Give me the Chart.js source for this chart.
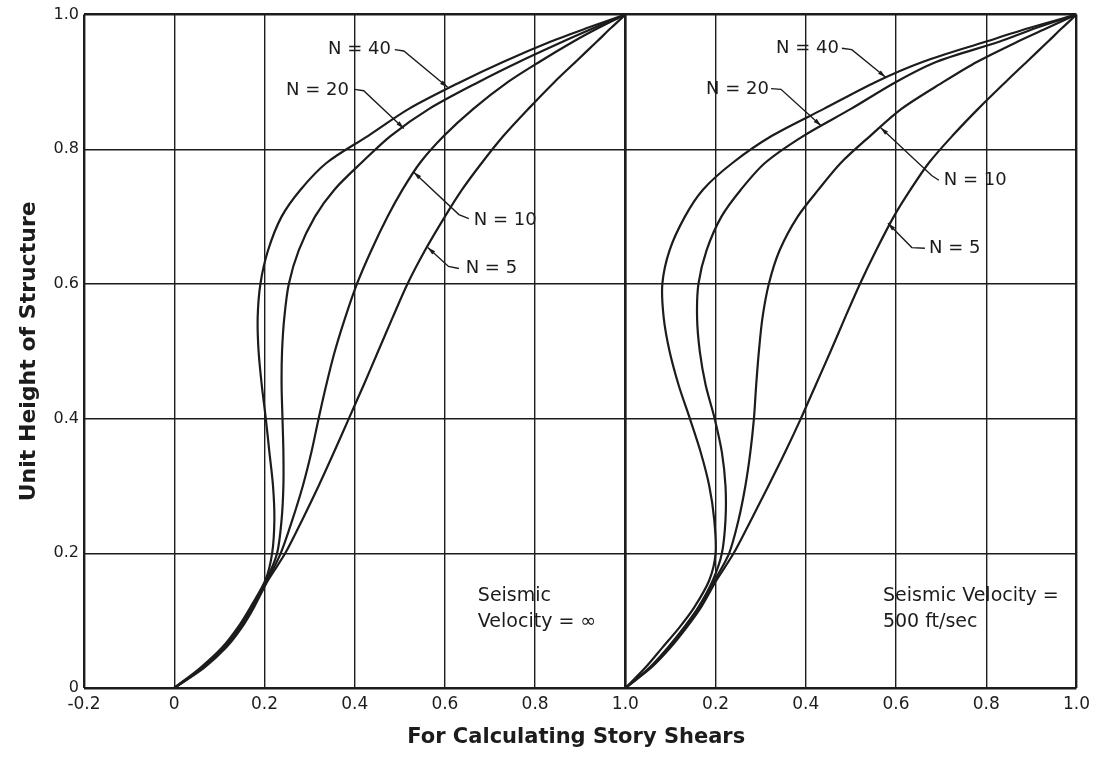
<!DOCTYPE html>
<html><head><meta charset="utf-8">
<script src="https://cdn.jsdelivr.net/npm/chart.js@4"></script>
<style>html,body{margin:0;padding:0;background:#fff}#wrap{width:1096px;height:761px}</style>
</head><body><div id="wrap"><canvas id="c" width="1096" height="761"></canvas></div>
<script>
// ---- data: unit height levels and shear ratio values of each curve ----
const heights = [0, 0.03, 0.06, 0.09, 0.12, 0.16, 0.2, 0.25, 0.3, 0.35, 0.4, 0.45, 0.5, 0.55, 0.6, 0.65, 0.7, 0.74, 0.78, 0.82, 0.86, 0.9, 0.93, 0.96, 0.98, 1.0];

// Seismic velocity = infinity (left panel)
const leftN40 = [0, 0.058, 0.106, 0.141, 0.169, 0.202, 0.217, 0.222, 0.219, 0.211, 0.203, 0.194, 0.187, 0.185, 0.191, 0.208, 0.238, 0.28, 0.338, 0.43, 0.52, 0.635, 0.73, 0.835, 0.915, 1.0];
const leftN20 = [0, 0.061, 0.109, 0.144, 0.171, 0.204, 0.228, 0.238, 0.242, 0.242, 0.24, 0.238, 0.239, 0.244, 0.254, 0.276, 0.312, 0.355, 0.415, 0.48, 0.565, 0.675, 0.765, 0.862, 0.93, 1.0];
const leftN10 = [0, 0.063, 0.112, 0.147, 0.174, 0.206, 0.236, 0.262, 0.285, 0.304, 0.32, 0.337, 0.356, 0.379, 0.405, 0.437, 0.473, 0.506, 0.545, 0.598, 0.663, 0.74, 0.81, 0.885, 0.94, 1.0];
const leftN5  = [0, 0.066, 0.115, 0.15, 0.177, 0.208, 0.246, 0.284, 0.32, 0.354, 0.387, 0.42, 0.452, 0.484, 0.517, 0.556, 0.6, 0.638, 0.682, 0.73, 0.785, 0.843, 0.89, 0.937, 0.968, 1.0];

// Seismic velocity = 500 ft/sec (right panel)
const rightN40 = [0, 0.044, 0.082, 0.12, 0.153, 0.186, 0.2, 0.197, 0.186, 0.167, 0.143, 0.118, 0.098, 0.085, 0.082, 0.098, 0.132, 0.172, 0.238, 0.325, 0.44, 0.555, 0.66, 0.8, 0.895, 1.0];
const rightN20 = [0, 0.053, 0.094, 0.13, 0.162, 0.194, 0.214, 0.222, 0.222, 0.214, 0.198, 0.178, 0.165, 0.159, 0.162, 0.18, 0.213, 0.256, 0.31, 0.395, 0.5, 0.6, 0.69, 0.83, 0.91, 1.0];
const rightN10 = [0, 0.055, 0.097, 0.133, 0.165, 0.198, 0.23, 0.251, 0.266, 0.277, 0.285, 0.29, 0.296, 0.304, 0.318, 0.342, 0.382, 0.428, 0.478, 0.543, 0.612, 0.705, 0.78, 0.87, 0.935, 1.0];
const rightN5  = [0, 0.057, 0.1, 0.136, 0.168, 0.202, 0.24, 0.279, 0.317, 0.354, 0.389, 0.422, 0.455, 0.487, 0.52, 0.556, 0.595, 0.632, 0.673, 0.725, 0.782, 0.843, 0.89, 0.937, 0.968, 1.0];

const seriesNames = ['N = 40', 'N = 20', 'N = 10', 'N = 5'];
const leftTickLabels  = ['-0.2', '0', '0.2', '0.4', '0.6', '0.8', '1.0'];
const rightTickLabels = ['', '0.2', '0.4', '0.6', '0.8', '1.0'];
const yTickLabels     = ['0', '0.2', '0.4', '0.6', '0.8', '1.0'];

const xTitle = 'For Calculating Story Shears';
const yTitle = 'Unit Height of Structure';

// curve labels: anchor in panel data units, leader polyline in data units
const curveLabels = [
  {panel:'L', text:'N = 40', at:[0.341,0.948], leader:[[0.489,0.948],[0.509,0.946],[0.606,0.892]]},
  {panel:'L', text:'N = 20', at:[0.248,0.887], leader:[[0.400,0.889],[0.420,0.887],[0.509,0.831]]},
  {panel:'L', text:'N = 10', at:[0.664,0.694], leader:[[0.653,0.697],[0.631,0.703],[0.531,0.766]]},
  {panel:'L', text:'N = 5',  at:[0.646,0.623], leader:[[0.631,0.623],[0.608,0.626],[0.562,0.654]]},
  {panel:'R', text:'N = 40', at:[0.334,0.950], leader:[[0.480,0.950],[0.502,0.948],[0.577,0.907]]},
  {panel:'R', text:'N = 20', at:[0.179,0.889], leader:[[0.323,0.890],[0.345,0.889],[0.434,0.835]]},
  {panel:'R', text:'N = 10', at:[0.706,0.754], leader:[[0.695,0.754],[0.679,0.761],[0.566,0.832]]},
  {panel:'R', text:'N = 5',  at:[0.673,0.653], leader:[[0.664,0.653],[0.635,0.654],[0.582,0.690]]}
];
const panelNotes = [
  {panel:'L', lines:['Seismic', 'Velocity = \u221e'], at:[0.673,0.137]},
  {panel:'R', lines:['Seismic Velocity =', '500 ft/sec'], at:[0.571,0.137]}
];

// ---- styling ----
const ink = '#1c1c1c';
const FONT = "'DejaVu Sans', sans-serif";

function toPoints(vals){ return vals.map((v,i)=>({x:v, y:heights[i]})); }
const lineStyle = {showLine:true, borderColor:ink, backgroundColor:ink, borderWidth:2.2, pointRadius:0, tension:0.3, fill:false};

const datasets = [];
[leftN40, leftN20, leftN10, leftN5].forEach((vals,i)=>{
  datasets.push(Object.assign({label:'Velocity \u221e, '+seriesNames[i], data:toPoints(vals), xAxisID:'xL', yAxisID:'y'}, lineStyle));
});
[rightN40, rightN20, rightN10, rightN5].forEach((vals,i)=>{
  datasets.push(Object.assign({label:'Velocity 500 ft/sec, '+seriesNames[i], data:toPoints(vals), xAxisID:'xR', yAxisID:'y'}, lineStyle));
});

function gridWidth(count){
  return c => (c.index === 0 || c.index === count-1) ? 2.4 : 1.4;
}

const annotPlugin = {
  id:'annot',
  afterDatasetsDraw(chart){
    const {ctx, chartArea:ca, scales} = chart;
    const px = (p,v) => scales[p==='L' ? 'xL' : 'xR'].getPixelForValue(v);
    const py = h => scales.y.getPixelForValue(h);
    ctx.save();
    ctx.fillStyle = ink; ctx.strokeStyle = ink;
    ctx.font = '18px ' + FONT;
    ctx.textBaseline = 'middle';
    ctx.textAlign = 'left';
    curveLabels.forEach(l => {
      ctx.fillText(l.text, px(l.panel,l.at[0]), py(l.at[1]));
      const pts = l.leader.map(q => [px(l.panel,q[0]), py(q[1])]);
      ctx.lineWidth = 1.4;
      ctx.beginPath();
      ctx.moveTo(pts[0][0], pts[0][1]);
      for (let i=1;i<pts.length;i++) ctx.lineTo(pts[i][0], pts[i][1]);
      ctx.stroke();
      const a = pts[pts.length-2], b = pts[pts.length-1];
      const ang = Math.atan2(b[1]-a[1], b[0]-a[0]);
      const L = 8, W = 2.2;
      ctx.beginPath();
      ctx.moveTo(b[0], b[1]);
      ctx.lineTo(b[0]-L*Math.cos(ang)+W*Math.sin(ang), b[1]-L*Math.sin(ang)-W*Math.cos(ang));
      ctx.lineTo(b[0]-L*Math.cos(ang)-W*Math.sin(ang), b[1]-L*Math.sin(ang)+W*Math.cos(ang));
      ctx.closePath();
      ctx.fill();
    });
    ctx.font = '19px ' + FONT;
    panelNotes.forEach(n => {
      const x = px(n.panel, n.at[0]);
      const y = py(n.at[1]);
      n.lines.forEach((t,i) => ctx.fillText(t, x, y + i*26));
    });
    ctx.font = 'bold 21px ' + FONT;
    ctx.textAlign = 'center';
    ctx.textBaseline = 'alphabetic';
    ctx.fillText(xTitle, (ca.left+ca.right)/2 - 4, ca.bottom + 55);
    ctx.restore();
  }
};

new Chart(document.getElementById('c'), {
  type:'scatter',
  data:{datasets},
  options:{
    responsive:false,
    animation:false,
    devicePixelRatio:1,
    layout:{padding:{left:0, right:18, top:14, bottom:0}},
    plugins:{legend:{display:false}, tooltip:{enabled:false}, title:{display:false}},
    scales:{
      xL:{
        type:'linear', axis:'x', position:'bottom', stack:'xs', stackWeight:1.2,
        min:-0.2, max:1.0,
        afterFit(s){ s.height = 73; },
        border:{display:false},
        grid:{color:ink, lineWidth:gridWidth(7), drawTicks:false},
        ticks:{stepSize:0.2, autoSkip:false, maxRotation:0, padding:6, color:ink,
               font:{family:FONT, size:17},
               callback:(v,i)=>leftTickLabels[i]}
      },
      xR:{
        type:'linear', axis:'x', position:'bottom', stack:'xs', stackWeight:1.0,
        min:0, max:1.0,
        afterFit(s){ s.height = 73; },
        border:{display:false},
        grid:{color:ink, lineWidth:gridWidth(6), drawTicks:false},
        ticks:{stepSize:0.2, autoSkip:false, maxRotation:0, padding:6, color:ink,
               font:{family:FONT, size:17},
               callback:(v,i)=>rightTickLabels[i]}
      },
      y:{
        type:'linear', position:'left', min:0, max:1.0,
        afterFit(s){ s.width = 84; },
        border:{display:false},
        grid:{color:ink, lineWidth:gridWidth(6), drawTicks:false},
        ticks:{stepSize:0.2, autoSkip:false, padding:5, color:ink,
               font:{family:FONT, size:16},
               callback:(v,i)=>yTickLabels[i]},
        title:{display:true, text:yTitle, color:ink,
               font:{family:FONT, size:22, weight:'bold'}, padding:{top:16, bottom:0}}
      }
    }
  },
  plugins:[annotPlugin]
});
</script>
</body></html>
